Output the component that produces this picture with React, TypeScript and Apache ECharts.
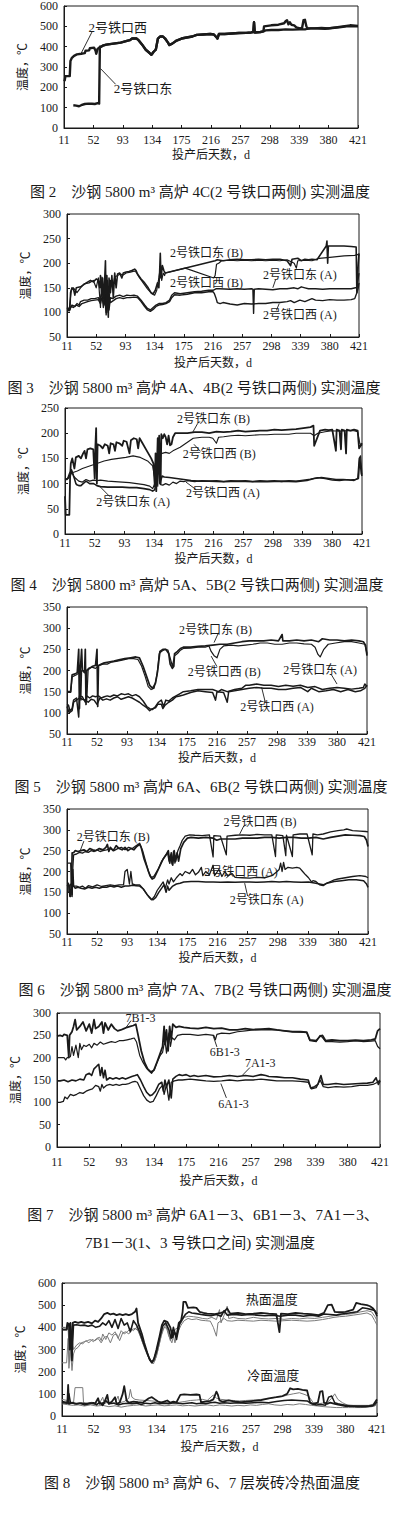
import React, { useEffect, useRef } from "react";
import * as echarts from "echarts";

type Pt = [number, number];

const X_TICKS = [11, 52, 93, 134, 175, 216, 257, 298, 339, 380, 421];
const X_NAME = "投产后天数，d";
const Y_NAME = "温度，℃";

// ---------- 图2 (4C) ----------
const P1_WEST_START: Pt[] = [[11,240],[12,235],[13,255],[19,255],[20,330],[22,345],[25,355],[29,362],[35,365],[40,368],[41,380],[46,382],[47,392],[53,395],[55,380],[56,365],[58,390]];
const P1_EAST_START: Pt[] = [[24,112],[28,110],[32,107],[35,112],[40,118],[45,120],[50,119],[54,118],[58,122],[60,120],[61,400]];
const P1_COMMON: Pt[] = [[62,398],[65,405],[70,410],[80,415],[90,420],[95,425],[100,430],[103,432],[106,440],[112,440],[115,432],[120,410],[125,385],[130,370],[133,360],[136,375],[139,385],[142,440],[145,450],[149,450],[152,440],[156,420],[158,408],[162,415],[168,430],[175,440],[182,445],[190,450],[196,458],[205,460],[215,462],[220,460],[224,445],[225,440],[227,462],[235,462],[245,465],[255,467],[265,468],[272,470],[275,472],[276,520],[277,470],[285,472],[289,475]];
const P1_WEST_END: Pt[] = [[292,480],[300,482],[310,482],[320,485],[330,484],[340,485],[348,486],[355,490],[365,490],[375,488],[385,492],[395,495],[405,500],[415,500],[421,500]];
const P1_EAST_END: Pt[] = [[290,500],[300,505],[310,508],[318,515],[320,525],[322,530],[324,510],[326,520],[328,508],[332,505],[335,495],[340,490],[343,492],[345,530],[347,532],[349,500],[351,490],[360,490],[370,492],[380,490],[390,495],[400,500],[410,505],[421,502]];

// ---------- 图3 (4A,4B) ----------
const P2_EAST_B: Pt[] = [[11,110],[13,108],[15,105],[16,140],[18,150],[20,148],[22,135],[24,150],[30,152],[33,155],[38,160],[44,165],[48,162],[52,168],[55,165],[57,150],[58,175],[60,135],[61,170],[63,120],[64,170],[65,205],[66,110],[67,175],[69,90],[70,170],[72,140],[74,175],[76,130],[78,180],[80,150],[82,178],[85,180],[88,170],[90,180],[94,182],[98,183],[102,185],[106,188],[108,185],[110,178],[115,168],[120,160],[125,150],[129,140],[132,138],[135,145],[138,160],[140,150],[141,180],[142,220],[143,170],[145,195],[147,185],[149,180],[219,205],[222,207],[230,205],[240,207],[250,208],[260,207],[270,207],[280,208],[290,207],[300,208],[310,208],[320,205],[325,195],[327,208],[335,210],[340,205],[345,208],[350,207],[355,208],[362,207],[375,235],[376,245],[377,200],[378,235],[390,235],[400,235],[410,234],[417,233],[418,140],[420,200],[421,220]];
const P2_WEST_B: Pt[] = [[11,105],[14,105],[17,145],[20,150],[25,140],[30,150],[35,158],[42,160],[48,165],[52,150],[55,170],[58,110],[60,172],[62,130],[64,165],[66,100],[68,165],[70,115],[72,165],[75,150],[78,172],[82,175],[86,178],[90,176],[94,180],[100,182],[105,184],[108,182],[112,172],[118,160],[124,148],[130,138],[134,135],[137,145],[140,170],[142,190],[144,165],[146,180],[148,175],[149,180],[177,190],[217,170],[219,175],[221,198],[224,200],[228,205],[240,206],[250,205],[260,206],[270,205],[280,206],[290,205],[300,206],[310,205],[320,207],[330,200],[333,190],[335,205],[345,206],[355,205],[365,210],[380,212],[400,215],[415,216],[420,218],[421,215]];
const P2_EAST_A: Pt[] = [[11,108],[14,105],[16,110],[18,115],[22,112],[25,118],[28,115],[30,122],[35,125],[40,125],[45,128],[50,128],[55,130],[57,125],[60,140],[62,110],[64,135],[66,95],[68,140],[70,105],[72,130],[75,128],[80,133],[85,135],[90,132],[95,135],[100,134],[105,135],[110,133],[115,125],[120,115],[124,108],[128,105],[132,110],[136,115],[140,118],[145,118],[150,120],[155,125],[158,135],[162,140],[170,138],[180,140],[190,142],[200,143],[210,145],[216,145],[220,148],[225,148],[240,147],[250,148],[260,147],[270,148],[272,147],[273,98],[274,147],[280,148],[290,147],[300,146],[310,148],[320,148],[330,150],[335,148],[340,152],[345,150],[350,148],[360,148],[370,147],[380,148],[390,148],[400,148],[410,148],[416,150],[418,150],[420,170],[421,180]];
const P2_WEST_A: Pt[] = [[11,104],[14,103],[17,112],[20,110],[24,115],[28,112],[32,118],[36,120],[40,122],[45,124],[50,125],[55,126],[58,118],[60,130],[63,115],[65,128],[67,100],[69,130],[72,120],[76,124],[80,128],[85,130],[90,128],[95,130],[100,130],[105,131],[110,130],[115,122],[120,112],[124,105],[128,102],[132,106],[136,112],[140,115],[145,116],[150,118],[155,122],[158,130],[162,136],[170,135],[180,137],[190,140],[200,140],[210,142],[216,142],[218,138],[220,130],[222,120],[226,118],[230,120],[240,117],[250,115],[260,118],[270,117],[280,118],[290,118],[300,120],[310,120],[320,122],[325,124],[330,120],[338,125],[345,122],[355,128],[360,125],[370,124],[380,126],[390,125],[400,125],[410,126],[415,128],[418,140],[420,150],[421,160]];

// ---------- 图4 (5A,5B) ----------
const P3_EAST_B: Pt[] = [[11,75],[12,38],[17,38],[18,110],[19,140],[21,150],[24,130],[26,152],[30,155],[33,150],[36,160],[38,165],[40,150],[42,168],[46,170],[50,168],[52,110],[53,175],[54,210],[55,100],[56,178],[60,175],[63,170],[66,178],[70,175],[72,160],[74,180],[78,178],[80,165],[82,182],[86,180],[90,175],[92,185],[96,183],[100,160],[102,186],[106,190],[110,188],[112,170],[114,190],[118,180],[124,165],[130,150],[133,140],[135,95],[136,160],[137,85],[139,190],[140,120],[141,195],[143,100],[144,198],[146,190],[148,198],[150,192],[152,178],[154,195],[156,176],[158,178],[160,192],[163,200],[170,200],[180,200],[190,202],[200,202],[210,200],[220,203],[230,202],[240,203],[250,205],[260,203],[270,204],[280,205],[290,205],[300,207],[310,206],[320,207],[330,208],[340,210],[350,212],[354,215],[355,175],[363,205],[370,207],[375,206],[380,207],[385,165],[386,207],[390,205],[392,168],[393,207],[397,205],[399,160],[400,207],[405,205],[410,207],[415,205],[417,170],[419,175],[421,180]];
const P3_WEST_B: Pt[] = [[11,108],[15,110],[18,118],[22,122],[28,125],[35,130],[45,135],[55,140],[65,145],[75,148],[85,150],[95,152],[105,155],[115,152],[125,145],[132,135],[135,110],[138,150],[140,158],[145,160],[150,162],[155,160],[160,165],[170,172],[180,182],[188,190],[200,192],[210,192],[215,190],[220,180],[223,192],[230,193],[240,195],[250,196],[260,195],[270,196],[280,197],[290,197],[300,198],[310,198],[320,198],[330,200],[340,200],[350,200],[355,195],[360,200],[370,203],[380,205],[390,204],[400,205],[410,205],[415,203],[418,180],[421,175]];
const P3_EAST_A: Pt[] = [[11,108],[15,110],[18,115],[20,125],[22,118],[24,110],[26,100],[28,97],[30,96],[33,96],[36,100],[40,105],[45,100],[50,100],[53,98],[55,96],[60,94],[70,93],[80,93],[90,93],[100,92],[110,92],[120,90],[128,88],[132,85],[135,88],[138,120],[140,160],[142,100],[145,115],[148,113],[155,112],[165,110],[175,108],[185,106],[195,105],[210,105],[230,104],[250,105],[270,104],[290,104],[310,105],[330,104],[345,106],[355,110],[365,112],[375,110],[385,108],[395,108],[405,107],[412,108],[416,110],[418,150],[420,120],[421,115]];
const P3_WEST_A: Pt[] = [[11,108],[14,108],[17,120],[20,128],[23,115],[26,110],[30,105],[35,103],[40,108],[45,105],[50,107],[55,106],[60,107],[65,106],[70,105],[80,104],[90,103],[100,102],[110,100],[120,98],[128,95],[132,90],[135,100],[137,150],[139,95],[141,155],[143,98],[146,97],[150,100],[155,97],[160,103],[165,100],[170,105],[175,104],[180,106],[190,104],[200,106],[210,105],[220,106],[230,104],[240,106],[250,105],[260,106],[270,104],[280,106],[290,105],[300,106],[310,104],[320,106],[330,105],[340,107],[350,109],[360,112],[370,110],[380,107],[390,106],[400,108],[410,106],[415,110],[417,150],[419,155],[421,118]];

// ---------- 图5 (6A,6B) ----------
const P4_EAST_B: Pt[] = [[11,150],[16,150],[18,190],[22,192],[25,195],[27,250],[28,110],[29,195],[31,250],[32,200],[35,195],[36,250],[37,120],[38,200],[42,205],[46,210],[50,212],[52,250],[53,115],[54,212],[58,215],[62,218],[68,220],[75,222],[82,225],[90,228],[98,230],[105,232],[110,230],[115,210],[120,185],[124,165],[128,158],[132,170],[135,200],[138,245],[142,250],[146,250],[150,240],[152,215],[155,205],[157,210],[158,240],[162,245],[166,252],[170,255],[180,255],[190,257],[200,258],[210,260],[220,262],[230,262],[240,265],[250,268],[260,270],[270,270],[280,270],[290,272],[300,270],[305,285],[306,270],[315,270],[325,272],[335,270],[345,272],[355,268],[360,275],[370,272],[380,272],[390,270],[400,272],[410,270],[416,268],[419,260],[421,235]];
const P4_WEST_B: Pt[] = [[11,148],[16,148],[18,185],[24,190],[28,195],[30,130],[31,200],[36,200],[38,130],[40,205],[45,208],[50,205],[55,212],[60,215],[66,215],[72,220],[80,222],[88,225],[95,228],[102,228],[108,226],[113,210],[118,185],[122,162],[126,155],[130,158],[134,190],[137,240],[140,245],[145,250],[149,248],[152,230],[155,210],[158,235],[162,240],[166,248],[170,252],[180,253],[190,255],[200,255],[205,258],[208,245],[212,235],[216,230],[220,250],[225,258],[235,260],[245,258],[255,260],[265,262],[275,265],[285,265],[295,262],[305,262],[315,265],[325,265],[335,263],[345,262],[350,255],[354,238],[357,232],[362,250],[368,262],[378,265],[390,268],[400,268],[410,265],[418,262],[421,240]];
const P4_EAST_A: Pt[] = [[11,120],[13,118],[15,105],[18,110],[20,130],[24,135],[27,90],[28,140],[32,138],[36,125],[38,140],[42,135],[46,140],[50,138],[54,140],[58,135],[62,138],[66,140],[70,138],[75,142],[80,140],[85,145],[90,143],[95,145],[100,140],[105,143],[110,138],[115,128],[120,115],[124,110],[128,108],[132,115],[136,125],[140,130],[143,115],[146,130],[150,128],[155,135],[160,140],[165,145],[170,150],[180,152],[190,155],[200,155],[210,155],[218,150],[222,155],[230,150],[240,155],[250,158],[255,165],[260,165],[270,168],[280,165],[290,165],[300,162],[310,165],[320,163],[330,165],[340,160],[350,162],[360,155],[370,158],[380,160],[390,158],[400,156],[410,158],[416,160],[418,168],[421,162]];
const P4_WEST_A: Pt[] = [[11,115],[14,100],[18,105],[20,125],[24,130],[28,135],[32,132],[36,130],[40,125],[44,132],[48,130],[52,120],[56,135],[60,130],[65,133],[70,130],[75,135],[80,138],[85,132],[90,135],[95,138],[100,135],[105,130],[110,125],[115,118],[120,112],[124,105],[128,110],[132,112],[135,120],[140,120],[142,110],[145,118],[150,125],[155,130],[160,138],[165,140],[170,142],[180,148],[190,152],[200,150],[210,148],[214,130],[216,150],[225,148],[230,125],[232,150],[240,152],[250,155],[260,158],[270,160],[280,158],[290,158],[300,155],[310,155],[320,158],[330,160],[340,150],[345,158],[355,150],[365,152],[375,155],[385,150],[395,155],[405,150],[412,152],[418,158],[421,165]];

// ---------- 图6 (7A,7B) ----------
const P5_EAST_B: Pt[] = [[11,168],[14,165],[15,140],[16,140],[17,165],[18,245],[20,245],[22,250],[26,248],[30,250],[34,252],[38,248],[42,255],[46,252],[50,250],[55,255],[60,252],[64,258],[66,265],[68,248],[70,258],[74,250],[78,262],[82,255],[86,252],[90,258],[94,250],[98,255],[102,252],[106,260],[110,265],[112,258],[116,230],[120,210],[124,190],[127,182],[130,185],[134,200],[138,215],[142,230],[146,240],[149,250],[151,220],[153,245],[155,215],[157,250],[159,225],[161,245],[163,225],[166,255],[170,270],[175,280],[180,282],[190,280],[200,282],[210,280],[215,275],[220,278],[230,278],[240,278],[250,280],[260,280],[270,280],[280,282],[290,282],[300,280],[310,282],[320,282],[330,280],[340,280],[350,282],[360,278],[370,282],[380,285],[390,288],[400,287],[410,286],[416,284],[419,275],[421,260]];
const P5_WEST_B: Pt[] = [[11,220],[16,220],[17,160],[18,140],[19,210],[20,240],[24,242],[28,246],[32,244],[36,248],[40,246],[44,250],[48,248],[52,252],[56,248],[60,250],[65,252],[70,255],[75,250],[80,255],[85,258],[90,252],[95,258],[100,255],[105,262],[110,268],[114,250],[118,225],[122,200],[126,185],[130,190],[135,205],[140,225],[145,238],[148,245],[150,225],[152,240],[154,218],[156,248],[158,220],[162,250],[165,262],[168,275],[172,285],[178,288],[185,287],[195,286],[205,288],[210,235],[211,286],[220,285],[228,240],[229,285],[240,287],[250,288],[260,287],[270,289],[280,288],[290,288],[295,236],[296,288],[305,286],[309,238],[310,287],[318,236],[319,288],[328,290],[338,290],[345,240],[346,290],[352,288],[360,290],[370,295],[380,298],[388,300],[392,302],[400,298],[410,297],[418,296],[421,295]];
const P5_EAST_A: Pt[] = [[11,150],[14,150],[15,168],[17,170],[18,145],[19,205],[20,165],[22,160],[26,162],[30,160],[35,158],[40,162],[45,160],[50,162],[55,160],[60,163],[65,162],[70,165],[75,163],[80,165],[85,162],[90,165],[95,165],[100,167],[105,166],[110,165],[115,158],[120,145],[125,135],[128,132],[132,138],[136,150],[140,160],[143,168],[146,150],[148,165],[150,155],[155,165],[160,170],[165,172],[170,175],[180,176],[190,176],[200,175],[210,175],[220,174],[230,175],[240,174],[250,175],[260,175],[270,174],[280,175],[290,176],[300,175],[310,176],[320,175],[330,174],[340,175],[350,172],[355,170],[360,168],[365,172],[375,176],[385,178],[395,180],[405,180],[415,178],[419,170],[421,162]];
const P5_WEST_A: Pt[] = [[11,172],[13,172],[14,150],[17,150],[18,180],[20,165],[24,165],[28,162],[32,165],[36,160],[40,166],[46,163],[52,168],[58,164],[64,166],[70,168],[76,166],[82,168],[88,168],[90,200],[93,205],[96,170],[98,200],[100,170],[104,168],[110,168],[114,160],[118,150],[122,140],[126,132],[130,140],[134,155],[138,165],[142,175],[145,160],[148,180],[150,170],[153,185],[156,175],[160,185],[165,195],[168,190],[172,200],[178,195],[182,205],[186,192],[190,198],[194,210],[196,190],[200,200],[205,192],[210,215],[212,190],[218,205],[222,188],[226,200],[230,190],[236,195],[240,186],[250,185],[260,184],[270,186],[280,185],[290,190],[296,198],[300,205],[302,220],[304,200],[306,222],[308,205],[312,210],[318,208],[324,210],[328,208],[332,200],[336,192],[340,185],[344,175],[346,178],[350,176],[355,168],[360,166],[365,172],[370,176],[375,180],[380,182],[390,185],[400,188],[410,190],[418,188],[421,185]];

// ---------- 图7 (6A1-3,6B1-3,7A1-3,7B1-3) ----------
const P6_7B: Pt[] = [[11,248],[15,250],[18,248],[20,252],[24,250],[26,200],[27,250],[30,258],[32,270],[34,285],[36,262],[40,270],[44,280],[48,260],[52,275],[55,255],[58,285],[60,265],[64,270],[68,280],[70,255],[72,278],[76,262],[80,275],[84,265],[88,260],[92,262],[96,265],[100,268],[104,270],[108,272],[111,275],[114,250],[118,215],[122,190],[126,175],[130,168],[134,172],[138,190],[142,210],[145,225],[147,270],[148,230],[150,262],[152,215],[154,270],[156,240],[158,275],[162,268],[166,270],[172,268],[180,266],[190,265],[200,268],[210,265],[220,266],[230,262],[240,262],[250,265],[260,263],[270,264],[280,265],[290,262],[300,260],[310,258],[320,258],[328,257],[332,240],[340,238],[345,248],[348,250],[352,238],[360,240],[370,238],[380,238],[390,239],[400,238],[410,240],[415,242],[418,260],[421,265]];
const P6_6B: Pt[] = [[11,200],[20,200],[22,195],[24,200],[28,202],[30,225],[32,205],[35,228],[38,200],[40,232],[42,218],[45,228],[48,225],[52,230],[55,222],[58,232],[62,228],[66,235],[70,230],[75,233],[80,236],[85,234],[90,238],[95,238],[100,240],[105,242],[109,244],[112,235],[116,205],[120,190],[124,178],[128,170],[131,165],[135,175],[138,190],[142,205],[145,212],[148,240],[150,210],[153,255],[155,225],[157,245],[160,240],[164,250],[170,252],[180,252],[190,250],[200,252],[210,250],[212,240],[214,252],[220,255],[230,254],[240,258],[250,260],[260,262],[270,262],[280,263],[290,262],[300,260],[310,258],[320,257],[328,256],[332,238],[340,236],[345,250],[348,245],[352,236],[360,236],[370,235],[380,236],[390,238],[400,236],[410,237],[415,238],[418,225],[421,220]];
const P6_7A: Pt[] = [[11,148],[15,148],[20,150],[25,146],[30,150],[35,148],[40,152],[45,150],[48,162],[52,165],[55,160],[58,175],[62,182],[64,185],[66,160],[68,178],[70,155],[72,172],[74,150],[78,155],[82,152],[86,155],[90,152],[94,155],[98,152],[102,155],[106,158],[110,160],[113,162],[117,150],[121,135],[125,122],[129,115],[132,117],[136,125],[140,140],[144,145],[146,125],[148,150],[150,135],[153,150],[156,110],[158,152],[162,158],[166,162],[170,160],[175,162],[180,158],[185,160],[190,158],[200,160],[210,157],[220,158],[230,160],[240,158],[250,160],[260,158],[270,162],[276,160],[280,158],[290,157],[300,155],[310,155],[320,152],[330,150],[333,132],[338,135],[342,140],[346,160],[349,140],[355,140],[365,142],[375,140],[385,141],[395,142],[405,143],[412,145],[416,155],[419,140],[421,148]];
const P6_6A: Pt[] = [[11,100],[15,100],[19,102],[21,112],[24,108],[28,118],[32,115],[36,118],[40,122],[44,120],[48,125],[52,128],[56,130],[60,138],[64,135],[66,125],[68,140],[70,132],[74,138],[78,140],[82,138],[86,140],[90,138],[94,140],[98,140],[102,142],[106,145],[110,147],[113,145],[117,130],[121,115],[125,105],[129,100],[133,102],[137,115],[141,130],[145,138],[147,118],[150,140],[153,105],[156,145],[160,148],[165,150],[170,150],[180,152],[190,150],[200,148],[210,147],[220,148],[230,150],[240,148],[250,150],[260,150],[270,152],[280,150],[290,148],[300,148],[310,148],[320,147],[330,145],[334,130],[340,133],[345,150],[349,135],[355,133],[365,135],[375,134],[385,135],[395,138],[405,138],[412,140],[418,145],[421,150]];

// ---------- 图8 (hot / cold face) ----------
const P7_HOT1: Pt[] = [[11,390],[17,390],[18,420],[20,415],[21,300],[22,420],[24,250],[25,420],[28,425],[32,420],[36,425],[40,420],[45,425],[50,418],[54,430],[58,425],[62,440],[64,450],[66,460],[70,465],[74,458],[78,462],[82,455],[86,460],[90,455],[94,460],[98,455],[102,460],[106,470],[108,485],[110,420],[112,400],[115,370],[118,330],[122,285],[125,255],[128,240],[131,260],[134,300],[138,360],[141,410],[144,430],[148,425],[152,400],[155,355],[157,380],[160,360],[163,420],[166,430],[168,470],[169,515],[172,515],[175,488],[182,490],[186,488],[190,470],[195,465],[200,462],[210,460],[218,465],[222,470],[226,485],[230,462],[240,465],[250,460],[260,462],[270,465],[280,462],[290,460],[294,378],[296,462],[305,460],[315,465],[325,462],[335,460],[345,455],[352,465],[357,500],[362,502],[366,470],[372,468],[380,470],[390,480],[394,510],[400,505],[408,500],[412,495],[416,485],[419,470],[421,460]];
const P7_HOT2: Pt[] = [[11,390],[17,390],[18,410],[22,405],[24,300],[26,410],[30,412],[35,408],[40,410],[45,405],[50,410],[55,400],[60,405],[64,420],[68,410],[72,430],[76,400],[80,435],[84,395],[88,440],[92,410],[96,420],[100,380],[104,430],[108,410],[112,380],[116,340],[120,300],[124,265],[127,245],[130,250],[134,290],[138,350],[142,405],[146,420],[150,390],[153,350],[156,400],[160,345],[164,415],[168,440],[172,460],[176,470],[180,465],[186,462],[192,458],[198,455],[205,452],[212,458],[218,450],[222,475],[226,455],[235,458],[245,455],[255,458],[265,455],[275,452],[285,455],[295,450],[305,455],[315,455],[325,450],[335,455],[345,450],[352,460],[360,458],[368,455],[375,460],[385,465],[395,470],[402,488],[408,485],[414,480],[418,475],[421,450]];
const P7_HOT3: Pt[] = [[11,240],[17,240],[19,350],[20,215],[22,300],[24,205],[26,280],[28,300],[32,310],[36,330],[40,335],[44,340],[48,345],[52,335],[56,350],[60,355],[62,340],[64,370],[68,345],[72,375],[76,365],[80,380],[84,350],[88,385],[92,370],[96,380],[100,395],[104,385],[108,400],[112,370],[116,330],[120,300],[124,265],[128,245],[132,250],[136,300],[140,360],[144,400],[148,395],[152,340],[155,380],[158,330],[162,380],[166,410],[170,430],[175,440],[180,435],[186,438],[192,432],[198,430],[204,428],[208,400],[212,360],[214,420],[218,430],[222,440],[226,430],[232,428],[240,432],[250,430],[260,428],[270,432],[280,430],[290,428],[300,430],[310,432],[320,430],[330,428],[340,430],[350,435],[358,440],[365,445],[372,448],[380,450],[390,455],[400,460],[408,465],[414,455],[418,430],[421,410]];
const P7_HOT4: Pt[] = [[11,400],[17,400],[19,390],[21,250],[23,380],[26,300],[30,320],[34,330],[38,325],[42,340],[46,330],[50,345],[54,340],[58,350],[62,330],[66,355],[70,360],[74,330],[78,365],[82,370],[86,340],[90,375],[94,380],[98,370],[102,390],[106,395],[110,385],[114,350],[118,310],[122,275],[126,250],[130,235],[134,270],[138,330],[142,390],[146,410],[150,360],[154,330],[158,390],[162,400],[166,420],[170,445],[176,450],[182,448],[188,445],[194,440],[200,438],[206,445],[212,435],[216,480],[218,420],[222,455],[226,495],[228,440],[234,445],[240,440],[250,438],[260,445],[270,440],[280,438],[290,440],[300,436],[310,440],[320,438],[330,442],[340,440],[350,445],[360,450],[370,455],[380,458],[390,462],[400,470],[408,475],[414,470],[418,450],[421,430]];
const P7_COLD1: Pt[] = [[11,65],[18,60],[19,140],[20,55],[24,60],[30,55],[36,58],[42,55],[48,58],[54,55],[58,80],[60,55],[66,60],[70,95],[72,55],[76,65],[80,85],[82,55],[86,60],[90,100],[92,135],[95,70],[98,60],[104,65],[110,62],[116,60],[120,70],[124,80],[128,85],[132,75],[136,65],[140,60],[144,65],[148,70],[152,60],[156,65],[160,62],[165,95],[170,98],[178,95],[186,97],[190,95],[192,62],[198,65],[204,68],[208,75],[212,110],[214,95],[216,70],[220,65],[228,70],[236,65],[244,62],[252,65],[260,68],[270,72],[280,80],[290,85],[298,90],[304,100],[308,125],[312,120],[318,122],[324,118],[330,115],[334,60],[338,55],[344,60],[347,110],[350,112],[352,60],[356,55],[360,60],[366,55],[372,50],[380,45],[390,45],[400,45],[410,45],[416,48],[418,60],[421,75]];
const P7_COLD2: Pt[] = [[11,60],[18,58],[20,100],[22,60],[28,55],[34,58],[40,50],[46,55],[52,60],[56,50],[60,62],[64,48],[68,70],[72,55],[78,58],[84,50],[90,55],[96,58],[102,55],[108,58],[114,52],[120,58],[126,55],[132,60],[138,55],[144,58],[150,55],[156,60],[162,58],[168,55],[174,58],[180,60],[186,55],[192,58],[198,55],[204,60],[210,62],[216,58],[222,60],[230,58],[240,60],[250,58],[260,60],[270,62],[280,60],[290,65],[300,70],[310,72],[320,70],[330,68],[336,55],[342,50],[348,52],[354,48],[358,85],[362,90],[366,60],[370,55],[378,50],[386,45],[396,42],[406,42],[414,45],[418,50],[421,65]];
const P7_COLD3: Pt[] = [[11,75],[18,70],[20,55],[26,60],[28,128],[38,128],[39,60],[44,58],[50,62],[56,55],[60,58],[64,85],[66,55],[70,62],[76,58],[80,60],[84,90],[86,60],[92,65],[98,80],[100,120],[102,85],[106,75],[112,72],[120,70],[128,68],[136,65],[144,62],[150,60],[156,58],[164,62],[170,65],[178,70],[186,72],[194,75],[200,70],[208,95],[212,80],[218,75],[226,72],[234,70],[242,68],[250,70],[260,72],[270,75],[280,78],[290,85],[298,88],[305,95],[312,100],[320,105],[326,98],[332,90],[338,60],[344,55],[350,58],[356,60],[362,80],[366,100],[370,75],[376,60],[382,50],[390,48],[400,48],[410,48],[418,55],[421,60]];
const P7_COLD4: Pt[] = [[11,55],[20,50],[26,48],[32,50],[40,45],[48,50],[56,45],[64,48],[72,42],[80,46],[88,40],[96,45],[104,48],[112,50],[120,45],[128,48],[136,50],[144,46],[152,48],[160,50],[168,46],[176,48],[184,45],[192,48],[200,50],[208,46],[216,50],[224,48],[232,45],[240,48],[248,46],[256,50],[264,48],[272,52],[280,55],[288,50],[296,48],[304,52],[312,50],[320,55],[328,52],[336,48],[344,45],[352,42],[360,40],[368,38],[376,38],[384,38],[392,38],[400,38],[408,40],[414,42],[418,45],[421,55]];

const SERIF = "'Liberation Serif', 'Noto Sans CJK SC'";
const INK = "#1a1a1a";
const GRAY = "#7a7a7a";

type SeriesDef = { name: string; data: Pt[]; color: string; width: number };
type Note = { text: string; at: Pt; leader?: [Pt, Pt]; size?: number };
type Panel = {
  grid: { left: number; top: number; width: number; height: number };
  y: [number, number, number];
  yGap: number;
  xGap: number;
  xMargin: number;
  captions: { text: string; x: number; y: number }[];
  series: SeriesDef[];
  notes: Note[];
};

const PANELS: Panel[] = [
  {
    grid: { left: 64, top: 6, width: 294, height: 122 },
    y: [0, 600, 100], yGap: 27, xGap: 21, xMargin: 6,
    captions: [{ text: "图 2    沙钢 5800 m³ 高炉 4C(2 号铁口两侧) 实测温度", x: 200, y: 192 }],
    series: [
      { name: "2号铁口西", data: [...P1_WEST_START, ...P1_COMMON, ...P1_WEST_END], color: INK, width: 2.4 },
      { name: "2号铁口东", data: [...P1_EAST_START, ...P1_COMMON, ...P1_EAST_END], color: INK, width: 2.4 },
    ],
    notes: [
      { text: "2号铁口西", at: [86, 495], leader: [[50, 472], [35, 368]], size: 13 },
      { text: "2号铁口东", at: [121, 196], leader: [[83, 215], [62, 292]], size: 13 },
    ],
  },
  {
    grid: { left: 67, top: 214, width: 292, height: 123 },
    y: [50, 300, 50], yGap: 29, xGap: 20, xMargin: 3,
    captions: [{ text: "图 3    沙钢 5800 m³ 高炉 4A、4B(2 号铁口两侧) 实测温度", x: 194, y: 388 }],
    series: [
      { name: "2号铁口西 (A)", data: P2_WEST_A, color: INK, width: 1.4 },
      { name: "2号铁口东 (A)", data: P2_EAST_A, color: INK, width: 1.4 },
      { name: "2号铁口西 (B)", data: P2_WEST_B, color: INK, width: 1.2 },
      { name: "2号铁口东 (B)", data: P2_EAST_B, color: INK, width: 1.6 },
    ],
    notes: [
      { text: "2号铁口东 (B)", at: [207, 220] },
      { text: "2号铁口西 (B)", at: [207, 159] },
      { text: "2号铁口东 (A)", at: [338, 176], leader: [[304, 167], [300, 150]] },
      { text: "2号铁口西 (A)", at: [338, 94], leader: [[305, 104], [309, 118]] },
    ],
  },
  {
    grid: { left: 65, top: 408, width: 297, height: 126 },
    y: [0, 250, 50], yGap: 28, xGap: 19, xMargin: 3,
    captions: [{ text: "图 4    沙钢 5800 m³ 高炉 5A、5B(2 号铁口两侧) 实测温度", x: 197, y: 585 }],
    series: [
      { name: "2号铁口西 (A)", data: P3_WEST_A, color: INK, width: 1.2 },
      { name: "2号铁口东 (A)", data: P3_EAST_A, color: INK, width: 1.6 },
      { name: "2号铁口西 (B)", data: P3_WEST_B, color: INK, width: 1.1 },
      { name: "2号铁口东 (B)", data: P3_EAST_B, color: INK, width: 1.8 },
    ],
    notes: [
      { text: "2号铁口东 (B)", at: [216, 229], leader: [[194, 219], [187, 201]] },
      { text: "2号铁口西 (B)", at: [224, 158], leader: [[198, 164], [189, 178]] },
      { text: "2号铁口东 (A)", at: [105, 64], leader: [[73, 74], [60, 93]] },
      { text: "2号铁口西 (A)", at: [229, 81], leader: [[192, 88], [178, 103]] },
    ],
  },
  {
    grid: { left: 67, top: 607, width: 300, height: 127 },
    y: [50, 350, 50], yGap: 30, xGap: 18, xMargin: 2,
    captions: [{ text: "图 5    沙钢 5800 m³ 高炉 6A、6B(2 号铁口两侧) 实测温度", x: 201, y: 787 }],
    series: [
      { name: "2号铁口西 (A)", data: P4_WEST_A, color: INK, width: 1.5 },
      { name: "2号铁口东 (A)", data: P4_EAST_A, color: INK, width: 1.5 },
      { name: "2号铁口西 (B)", data: P4_WEST_B, color: INK, width: 1.2 },
      { name: "2号铁口东 (B)", data: P4_EAST_B, color: INK, width: 1.7 },
    ],
    notes: [
      { text: "2号铁口东 (B)", at: [214, 296], leader: [[218, 289], [212, 266]] },
      { text: "2号铁口西 (B)", at: [226, 197], leader: [[216, 209], [208, 234]] },
      { text: "2号铁口东 (A)", at: [357, 201], leader: [[372, 191], [380, 168]] },
      { text: "2号铁口西 (A)", at: [298, 114], leader: [[282, 125], [277, 160]] },
    ],
  },
  {
    grid: { left: 67, top: 809, width: 301, height: 125 },
    y: [50, 350, 50], yGap: 28, xGap: 18, xMargin: 2,
    captions: [{ text: "图 6    沙钢 5800 m³ 高炉 7A、7B(2 号铁口两侧) 实测温度", x: 205, y: 990 }],
    series: [
      { name: "2号铁口东 (A)", data: P5_EAST_A, color: INK, width: 1.5 },
      { name: "2号铁口西 (A)", data: P5_WEST_A, color: INK, width: 1.3 },
      { name: "2号铁口东 (B)", data: P5_EAST_B, color: INK, width: 1.7 },
      { name: "2号铁口西 (B)", data: P5_WEST_B, color: INK, width: 1.3 },
    ],
    notes: [
      { text: "2号铁口西 (B)", at: [274, 318], leader: [[252, 310], [246, 289]] },
      { text: "2号铁口东 (B)", at: [74, 284], leader: [[34, 273], [29, 250]] },
      { text: "2号铁口西 (A)", at: [248, 200], leader: [[232, 192], [228, 184]] },
      { text: "2号铁口东 (A)", at: [283, 131], leader: [[257, 141], [253, 172]] },
    ],
  },
  {
    grid: { left: 57, top: 1013, width: 323, height: 134 },
    y: [0, 300, 50], yGap: 32, xGap: 28, xMargin: 9,
    captions: [
      { text: "图 7    沙钢 5800 m³ 高炉 6A1－3、6B1－3、7A1－3、", x: 203, y: 1215 },
      { text: "7B1－3(1、3 号铁口之间) 实测温度", x: 200, y: 1243 },
    ],
    series: [
      { name: "6A1-3", data: P6_6A, color: INK, width: 1.3 },
      { name: "7A1-3", data: P6_7A, color: INK, width: 1.6 },
      { name: "6B1-3", data: P6_6B, color: INK, width: 1.2 },
      { name: "7B1-3", data: P6_7B, color: INK, width: 1.8 },
    ],
    notes: [
      { text: "7B1-3", at: [117, 288], leader: [[105, 283], [98, 266]] },
      { text: "6B1-3", at: [224, 213], leader: [[214, 224], [209, 250]] },
      { text: "7A1-3", at: [269, 187], leader: [[256, 178], [246, 160]] },
      { text: "6A1-3", at: [235, 97], leader: [[226, 110], [219, 142]] },
    ],
  },
  {
    grid: { left: 62, top: 1283, width: 315, height: 133 },
    y: [0, 600, 100], yGap: 30, xGap: 25, xMargin: 7,
    captions: [{ text: "图 8    沙钢 5800 m³ 高炉 6、7 层炭砖冷热面温度", x: 202, y: 1483 }],
    series: [
      { name: "热面温度 3", data: P7_HOT3, color: GRAY, width: 1 },
      { name: "热面温度 4", data: P7_HOT4, color: GRAY, width: 1 },
      { name: "冷面温度 3", data: P7_COLD3, color: GRAY, width: 1 },
      { name: "冷面温度 4", data: P7_COLD4, color: GRAY, width: 1 },
      { name: "热面温度 2", data: P7_HOT2, color: INK, width: 1.6 },
      { name: "热面温度 1", data: P7_HOT1, color: INK, width: 1.8 },
      { name: "冷面温度 2", data: P7_COLD2, color: INK, width: 1.5 },
      { name: "冷面温度 1", data: P7_COLD1, color: INK, width: 1.8 },
    ],
    notes: [
      { text: "热面温度", at: [284, 525], size: 13 },
      { text: "冷面温度", at: [286, 182], size: 13 },
    ],
  },
];

export default function App() {
  const ref = useRef<HTMLDivElement>(null);

  useEffect(() => {
    if (!ref.current) return;
    const chart = echarts.init(ref.current, null, { renderer: "svg" });

    const option: any = {
      animation: false,
      backgroundColor: "#ffffff",
      grid: PANELS.map((p) => ({
        ...p.grid,
        show: true,
        borderColor: INK,
        borderWidth: 1,
        backgroundColor: "transparent",
        containLabel: false,
      })),
      xAxis: PANELS.map((p, i) => ({
        type: "value",
        gridIndex: i,
        min: 11,
        max: 421,
        axisLine: { show: true, onZero: false, lineStyle: { color: INK, width: 1 } },
        axisTick: { show: true, inside: true, length: 3, customValues: X_TICKS, lineStyle: { color: INK } },
        axisLabel: { customValues: X_TICKS, margin: p.xMargin, fontSize: 12, fontFamily: SERIF, color: INK },
        splitLine: { show: false },
        name: X_NAME,
        nameLocation: "middle",
        nameGap: p.xGap,
        nameTextStyle: { fontSize: 12, fontFamily: SERIF, color: INK },
      })),
      yAxis: PANELS.map((p, i) => ({
        type: "value",
        gridIndex: i,
        min: p.y[0],
        max: p.y[1],
        interval: p.y[2],
        axisLine: { show: true, onZero: false, lineStyle: { color: INK, width: 1 } },
        axisTick: { show: true, inside: true, length: 3, lineStyle: { color: INK } },
        axisLabel: { margin: 6, fontSize: 12, fontFamily: SERIF, color: INK },
        splitLine: { show: false },
        name: Y_NAME,
        nameLocation: "middle",
        nameRotate: 90,
        nameGap: p.yGap,
        nameTextStyle: { fontSize: 12, fontFamily: SERIF, color: INK },
      })),
      series: PANELS.flatMap((p, i) =>
        p.series.map((s) => ({
          type: "line",
          name: s.name,
          xAxisIndex: i,
          yAxisIndex: i,
          data: s.data,
          showSymbol: false,
          symbol: "none",
          silent: true,
          lineStyle: { color: s.color, width: s.width, join: "round" },
        }))
      ),
    };
    chart.setOption(option);

    const graphics: any[] = [];
    PANELS.forEach((p, i) => {
      p.captions.forEach((c) => {
        graphics.push({
          type: "text",
          x: c.x,
          y: c.y,
          silent: true,
          style: {
            text: c.text,
            fill: INK,
            font: `15px ${SERIF}`,
            textAlign: "center",
            textVerticalAlign: "middle",
            align: "center",
            verticalAlign: "middle",
          },
        });
      });
      p.notes.forEach((n) => {
        const pos = chart.convertToPixel({ gridIndex: i } as any, n.at) as number[];
        if (pos) {
          graphics.push({
            type: "text",
            x: pos[0],
            y: pos[1],
            silent: true,
            z: 100,
            style: {
              text: n.text,
              fill: INK,
              font: `${n.size || 12}px ${SERIF}`,
              textAlign: "center",
              textVerticalAlign: "middle",
              align: "center",
              verticalAlign: "middle",
            },
          });
        }
        if (n.leader) {
          const a = chart.convertToPixel({ gridIndex: i } as any, n.leader[0]) as number[];
          const b = chart.convertToPixel({ gridIndex: i } as any, n.leader[1]) as number[];
          if (a && b) {
            graphics.push({
              type: "line",
              silent: true,
              z: 100,
              shape: { x1: a[0], y1: a[1], x2: b[0], y2: b[1] },
              style: { stroke: INK, lineWidth: 0.9 },
            });
          }
        }
      });
    });
    chart.setOption({ graphic: graphics });

    return () => chart.dispose();
  }, []);

  return (
    <div
      ref={ref}
      style={{ position: "absolute", left: 0, top: 0, width: 393, height: 1514, background: "#fff" }}
    />
  );
}
